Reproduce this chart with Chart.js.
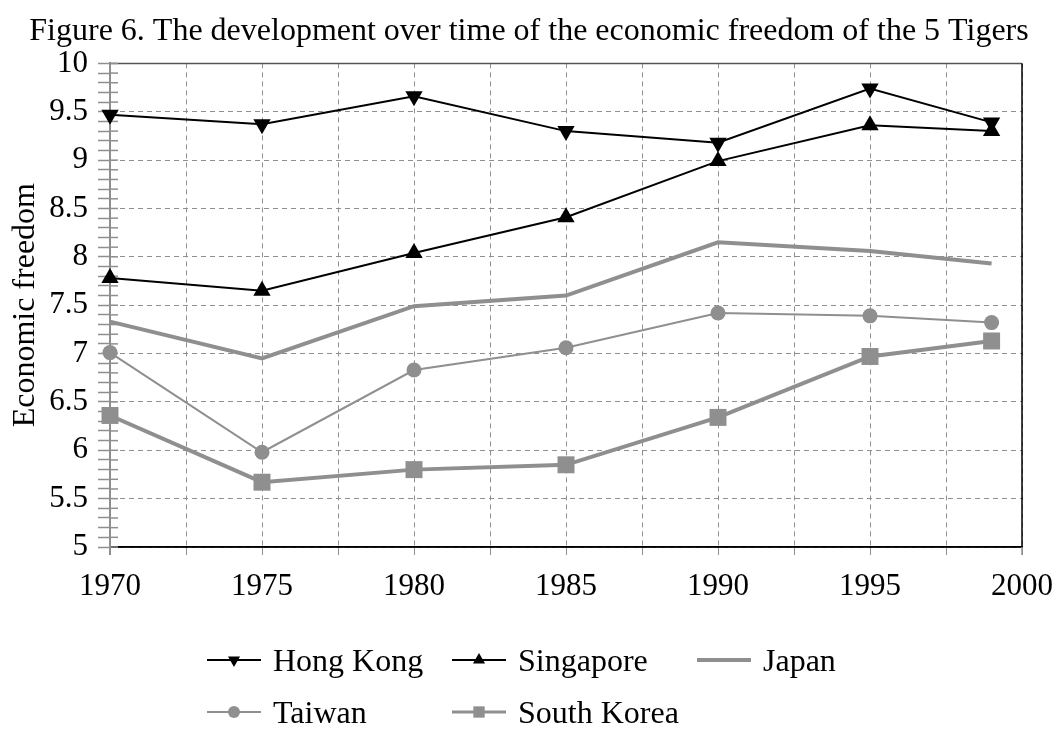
<!DOCTYPE html>
<html>
<head>
<meta charset="utf-8">
<script src="https://cdn.jsdelivr.net/npm/chart.js@4/dist/chart.umd.min.js"></script>
<style>
  html, body { margin: 0; padding: 0; background: #fff; }
  #wrap { position: relative; width: 1058px; height: 740px; }
  #legend { position: absolute; left: 0; top: 0; width: 1058px; height: 740px; pointer-events: none; }
  .legend-item { position: absolute; display: flex; align-items: center; height: 40px;
    font-family: "Liberation Serif", "Times New Roman", serif; font-size: 32px; color: #000; }
  .legend-item canvas { margin-right: 12px; }
</style>
</head>
<body>
<div id="wrap">
  <canvas id="chart" width="1058" height="740"></canvas>
  <div id="legend"></div>
</div>
<script>
const FONT = "'Liberation Serif', 'Times New Roman', serif";

const years = [1970, 1975, 1980, 1985, 1990, 1995, 1999];
const hongKong = [9.47, 9.37, 9.66, 9.30, 9.18, 9.74, 9.39];
const singapore = [7.78, 7.65, 8.04, 8.41, 8.99, 9.36, 9.30];
const japan = [7.33, 6.95, 7.49, 7.60, 8.15, 8.06, 7.93];
const taiwan = [7.01, 5.98, 6.83, 7.06, 7.42, 7.39, 7.32];
const southKorea = [6.36, 5.67, 5.80, 5.85, 6.34, 6.97, 7.13];

const seriesNames = ["Hong Kong", "Singapore", "Japan", "Taiwan", "South Korea"];

const GREY = "#8f8f8f";

function pts(values) {
  return values.map((v, i) => ({ x: years[i], y: v }));
}

const datasets = [
  { label: seriesNames[0], data: pts(hongKong), borderColor: "#000", backgroundColor: "#000",
    borderWidth: 2, pointStyle: "triangle", rotation: 180, pointRadius: 10 },
  { label: seriesNames[1], data: pts(singapore), borderColor: "#000", backgroundColor: "#000",
    borderWidth: 2, pointStyle: "triangle", pointRadius: 10 },
  { label: seriesNames[2], data: pts(japan), borderColor: GREY, backgroundColor: GREY,
    borderWidth: 4, pointRadius: 0 },
  { label: seriesNames[3], data: pts(taiwan), borderColor: GREY, backgroundColor: GREY,
    borderWidth: 2, pointStyle: "circle", pointRadius: 7.5 },
  { label: seriesNames[4], data: pts(southKorea), borderColor: GREY, backgroundColor: GREY,
    borderWidth: 4, pointStyle: "rect", pointRadius: 12 },
];
datasets.forEach((d) => {
  d.pointBorderWidth = 0;
  d.clip = false;
  d.tension = 0;
});

const isMajor = (v, step) => Math.abs(v / step - Math.round(v / step)) < 1e-6;

// plot frame (solid) and the minor ticks that cross the y axis
const framePlugin = {
  id: "frame",
  beforeDatasetsDraw(chart) {
    const { ctx, chartArea: a } = chart;
    const y = chart.scales.y;
    ctx.save();
    ctx.setLineDash([]);
    ctx.lineWidth = 1.5;
    ctx.strokeStyle = "#555";
    ctx.beginPath();
    ctx.moveTo(a.left, a.top);
    ctx.lineTo(a.right, a.top);
    ctx.stroke();
    ctx.strokeStyle = "#000";
    ctx.beginPath();
    ctx.moveTo(a.right, a.top);
    ctx.lineTo(a.right, a.bottom);
    ctx.lineTo(a.left, a.bottom);
    ctx.stroke();
    ctx.strokeStyle = GREY;
    ctx.beginPath();
    ctx.moveTo(a.right, a.bottom);
    ctx.lineTo(a.right, a.bottom + 8);
    ctx.stroke();
    ctx.lineWidth = 2;
    ctx.beginPath();
    ctx.moveTo(a.left, a.top);
    ctx.lineTo(a.left, a.bottom + 8);
    ctx.stroke();
    ctx.lineWidth = 1.5;
    y.ticks.forEach((t) => {
      const py = y.getPixelForValue(t.value);
      ctx.beginPath();
      ctx.moveTo(a.left, py);
      ctx.lineTo(a.left + 8, py);
      ctx.stroke();
    });
    ctx.restore();
  },
};

new Chart(document.getElementById("chart"), {
  type: "line",
  data: { datasets },
  plugins: [framePlugin],
  options: {
    responsive: false,
    animation: false,
    layout: { padding: { left: 0, right: 0, top: 0, bottom: 133 } },
    plugins: {
      legend: { display: false },
      tooltip: { enabled: false },
      title: {
        display: true,
        text: "Figure 6. The development over time of the economic freedom of the 5 Tigers",
        color: "#000",
        font: { family: FONT, size: 32, weight: "normal" },
        padding: { top: 12, bottom: 13 },
      },
    },
    scales: {
      x: {
        type: "linear",
        min: 1970,
        max: 2000,
        afterFit: (s) => {
          s.height = 60;
          s.paddingRight = 36;
          s.paddingLeft = 0;
        },
        ticks: {
          stepSize: 2.5,
          autoSkip: false,
          maxRotation: 0,
          padding: 13,
          color: "#000",
          font: { family: FONT, size: 31 },
          callback: (v) => (isMajor(v, 5) ? String(v) : ""),
        },
        grid: { color: GREY, lineWidth: 1, drawTicks: true, tickLength: 8, tickColor: GREY },
        border: { color: "#000", width: 1.5, dash: [5, 4] },
      },
      y: {
        min: 5,
        max: 10,
        afterFit: (s) => { s.width = 110; },
        title: {
          display: true,
          text: "Economic freedom",
          color: "#000",
          font: { family: FONT, size: 32 },
          padding: { top: 6, bottom: 0 },
        },
        ticks: {
          stepSize: 0.1,
          autoSkip: false,
          padding: 10,
          color: "#000",
          font: { family: FONT, size: 31 },
          callback: (v) => (isMajor(v, 0.5) ? String(Math.round(v * 10) / 10) : ""),
        },
        grid: {
          color: (c) => (c.tick && isMajor(c.tick.value, 0.5) ? GREY : "rgba(0,0,0,0)"),
          lineWidth: 1,
          drawTicks: true,
          tickLength: 12,
          tickColor: GREY,
          tickWidth: 1.5,
        },
        border: { color: GREY, width: 2, dash: [5, 4] },
      },
    },
  },
});

// legend: three columns, two rows
const legendCols = [207, 452, 697];
const legendRows = [660, 712];
const legendMarks = [
  { color: "#000", width: 2, style: "triangle", rotation: 180, radius: 7 },
  { color: "#000", width: 2, style: "triangle", rotation: 0, radius: 7 },
  { color: GREY, width: 4, style: false, rotation: 0, radius: 0 },
  { color: GREY, width: 2, style: "circle", rotation: 0, radius: 6 },
  { color: GREY, width: 3, style: "rect", rotation: 0, radius: 8 },
];
const legendEl = document.getElementById("legend");
seriesNames.forEach((name, i) => {
  const item = document.createElement("div");
  item.className = "legend-item";
  item.style.left = legendCols[i % 3] + "px";
  item.style.top = legendRows[Math.floor(i / 3)] - 20 + "px";
  const c = document.createElement("canvas");
  c.width = 54;
  c.height = 20;
  const g = c.getContext("2d");
  const m = legendMarks[i];
  g.strokeStyle = m.color;
  g.fillStyle = m.color;
  g.lineWidth = m.width;
  g.beginPath();
  g.moveTo(0, 10);
  g.lineTo(54, 10);
  g.stroke();
  if (m.style) {
    Chart.helpers.drawPoint(g, { pointStyle: m.style, rotation: m.rotation, radius: m.radius, borderWidth: 0 }, 27, 10);
  }
  item.appendChild(c);
  const span = document.createElement("span");
  span.textContent = name;
  item.appendChild(span);
  legendEl.appendChild(item);
});
</script>
</body>
</html>
